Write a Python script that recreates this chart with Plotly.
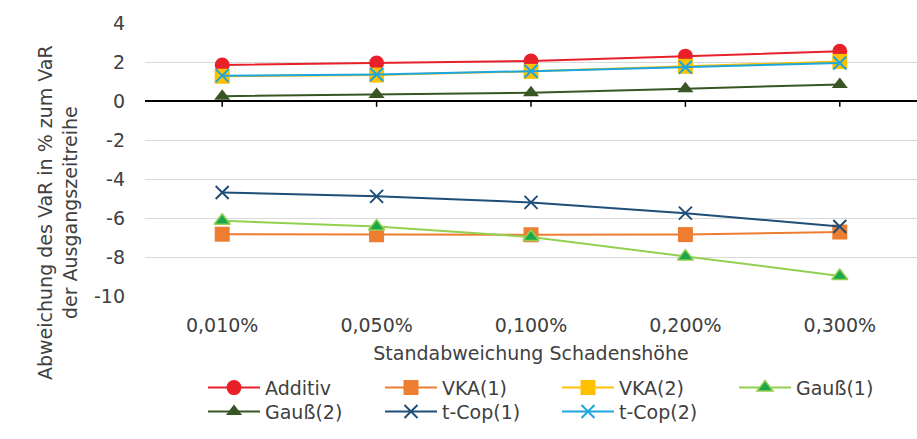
import plotly.graph_objects as go

# Standard deviation of loss severity (x categories)
categories = ["0,010%", "0,050%", "0,100%", "0,200%", "0,300%"]

# Deviation of VaR in % relative to the VaR of the original series
additiv = [1.85, 1.95, 2.05, 2.3, 2.55]
vka1 = [-6.83, -6.86, -6.86, -6.85, -6.72]
vka2 = [1.27, 1.33, 1.52, 1.78, 2.03]
gauss1 = [-6.14, -6.44, -6.97, -7.98, -8.97]
gauss2 = [0.25, 0.33, 0.42, 0.63, 0.85]
tcop1 = [-4.69, -4.89, -5.2, -5.75, -6.44]
tcop2 = [1.3, 1.36, 1.53, 1.73, 1.95]

y_ticks = [4, 2, 0, -2, -4, -6, -8, -10]

FONT = "DejaVu Sans"
TXT = "#404040"
FS = 19

# (name, values, line colour, marker, legend row)
series = [
    ("Additiv", additiv, "#E8202A", dict(symbol="circle", size=15, color="#E8202A"), "legend"),
    ("VKA(1)", vka1, "#ED7D31", dict(symbol="square", size=15, color="#ED7D31"), "legend"),
    ("VKA(2)", vka2, "#FFC000", dict(symbol="square", size=15, color="#FFC000"), "legend"),
    ("Gauß(1)", gauss1, "#92D050",
     dict(symbol="triangle-up", size=14, color="#1AA84B", line=dict(color="#92D050", width=1.5)),
     "legend"),
    ("Gauß(2)", gauss2, "#375623", dict(symbol="triangle-up", size=14, color="#375623"), "legend2"),
    ("t-Cop(1)", tcop1, "#1F4E79",
     dict(symbol="x-thin", size=13, color="#1F4E79", line=dict(color="#1F4E79", width=2)),
     "legend2"),
    ("t-Cop(2)", tcop2, "#1BA6E0",
     dict(symbol="x-thin", size=13, color="#1BA6E0", line=dict(color="#1BA6E0", width=2)),
     "legend2"),
]

fig = go.Figure()
for name, vals, col, mk, lg in series:
    fig.add_trace(go.Scatter(
        x=categories, y=vals, name=name, mode="lines+markers",
        line=dict(color=col, width=2), marker=mk, legend=lg,
    ))

# short tick marks hanging below the zero axis line
for c in categories:
    fig.add_shape(type="line", xref="x", yref="y", x0=c, x1=c, y0=0, y1=-0.3,
                  line=dict(color="#000000", width=1.5), layer="above")

fig.add_annotation(
    text="Abweichung des VaR in % zum VaR<br>der Ausgangszeitreihe",
    xref="paper", yref="paper", x=(57 - 145) / 772, y=(296 - 213) / 273,
    textangle=-90, showarrow=False, font=dict(family=FONT, size=FS, color=TXT),
    xanchor="center", yanchor="middle",
)

legend_common = dict(
    orientation="h", x=(203 - 145) / 772, xanchor="left", yanchor="top",
    entrywidth=110, entrywidthmode="pixels", itemwidth=52,
    font=dict(family=FONT, size=FS, color=TXT), tracegroupgap=0,
    bgcolor="rgba(0,0,0,0)",
)

fig.update_layout(
    width=917, height=439,
    margin=dict(l=145, r=0, t=23, b=143, autoexpand=False),
    paper_bgcolor="white", plot_bgcolor="white",
    font=dict(family=FONT, size=FS, color=TXT),
    showlegend=True,
    legend=dict(y=-0.2665, **legend_common),
    legend2=dict(y=-0.354, **legend_common),
    xaxis=dict(
        type="category", range=[-0.5, 4.5], showgrid=False, showline=False, ticks="",
        ticklabelstandoff=16, tickfont=dict(size=FS),
        title=dict(text="Standabweichung Schadenshöhe", font=dict(size=FS), standoff=11),
    ),
    yaxis=dict(
        range=[-10, 4], tickvals=y_ticks, ticktext=[str(v) for v in y_ticks],
        showgrid=True, gridcolor="#D9D9D9", gridwidth=1,
        zeroline=True, zerolinecolor="#000000", zerolinewidth=1.5,
        showline=False, ticks="", ticklabelstandoff=19, tickfont=dict(size=FS),
    ),
)

fig.write_html("out.html")
